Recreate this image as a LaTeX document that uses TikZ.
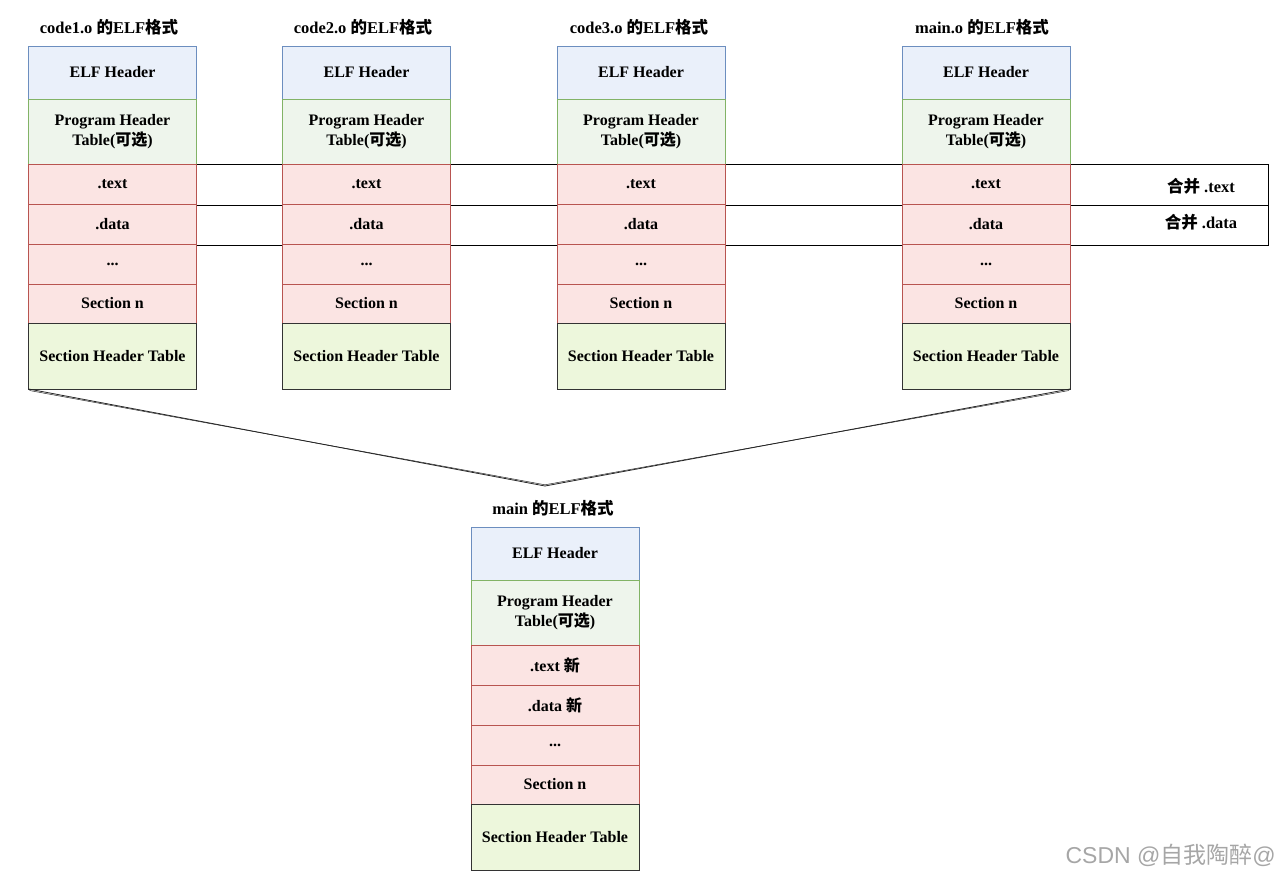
\documentclass[tikz,border=0pt]{standalone}
\usepackage{fontspec}
\setmainfont{Liberation Serif}
\newfontfamily\cjk{Noto Sans CJK SC Bold}
\newfontfamily\cjkw{Noto Sans CJK SC}
\newfontfamily\wsans{Liberation Sans}
\usetikzlibrary{positioning}
\definecolor{bfill}{HTML}{EAF0FA}
\definecolor{bdraw}{HTML}{6C8EBF}
\definecolor{gfill}{HTML}{EEF5EC}
\definecolor{gdraw}{HTML}{82B366}
\definecolor{rfill}{HTML}{FBE4E3}
\definecolor{rdraw}{HTML}{B85450}
\definecolor{sfill}{HTML}{EDF7DC}
\definecolor{sdraw}{HTML}{333333}
\tikzset{
  cell/.style={draw, line width=0.9pt, inner sep=0pt, outer sep=0pt,
    minimum width=168, align=center, font=\fontsize{16}{20}\selectfont\bfseries},
  ehbox/.style={cell, fill=bfill, draw=bdraw, minimum height=53},
  phbox/.style={cell, fill=gfill, draw=gdraw, minimum height=65},
  secbox/.style={cell, fill=rfill, draw=rdraw, minimum height=40},
  shtbox/.style={cell, fill=sfill, draw=sdraw, minimum height=66},
  titlebox/.style={inner sep=0pt, font=\fontsize{16.5}{20}\selectfont\bfseries},
  band/.style={draw, line width=0.9pt, inner sep=0pt, outer sep=0pt, minimum width=1240, minimum height=40.5},
  bandlabel/.style={inner sep=0pt, font=\fontsize{16.5}{20}\selectfont\bfseries},
  link/.style={line width=0.8pt, draw=black!85}
}
\newcommand\elfcol[5]{%
  \node[ehbox, anchor=north west] (#1eh) at (#2,#3) {ELF Header};
  \node[phbox, below=0pt of #1eh] (#1ph) {\raisebox{-2pt}{Program Header}\\\raisebox{-2pt}{Table({\cjk 可选})}};
  \node[secbox, below=0pt of #1ph] (#1tx) {#4};
  \node[secbox, below=0pt of #1tx] (#1da) {#5};
  \node[secbox, below=0pt of #1da] (#1dt) {\raisebox{-2pt}{...}};
  \node[secbox, minimum height=39, below=0pt of #1dt] (#1sn) {Section n};
  \node[shtbox, below=0pt of #1sn] (#1st) {Section Header Table};
}
\begin{document}
\begin{tikzpicture}[x=1pt,y=-1pt]
\useasboundingbox (0,0) rectangle (1280,876);
% merge bands
\node[band, anchor=north west] (bt) at (28,164.5) {};
\node[band, below=0pt of bt] (bd) {};
\node[bandlabel] (lt) at (1201,186) {{\cjk 合并} .text};
\node[bandlabel] (ld) at (1201,222) {{\cjk 合并} .data};
% columns
\elfcol{a}{28.5}{46}{.text}{.data}
\elfcol{b}{282.5}{46}{.text}{.data}
\elfcol{c}{557}{46}{.text}{.data}
\elfcol{d}{902}{46}{.text}{.data}
\elfcol{m}{471}{527}{.text {\cjk 新}}{.data {\cjk 新}}
% titles
\node[titlebox] (ta) at (109,27) {code1.o {\cjk 的}ELF{\cjk 格式}};
\node[titlebox] (tb) at (363,27) {code2.o {\cjk 的}ELF{\cjk 格式}};
\node[titlebox] (tc) at (639,27) {code3.o {\cjk 的}ELF{\cjk 格式}};
\node[titlebox] (td) at (982,27) {main.o {\cjk 的}ELF{\cjk 格式}};
\node[titlebox] (tm) at (553,508) {main {\cjk 的}ELF{\cjk 格式}};
% merge lines
\coordinate (apex) at (545,486);
\draw[link] (ast.south west) -- (apex) -- (dst.south east);
\draw[link, line width=0.5pt] ([shift={(1,1.5)}]ast.south west) -- ([shift={(0,-1.2)}]apex) -- ([shift={(-1,1.5)}]dst.south east);
% watermark
\node[anchor=east, inner sep=0pt, text=black!35, font=\fontsize{23}{26}\selectfont\wsans] (wm) at (1276,855) {CSDN @{\cjkw 自我陶醉}@};
\end{tikzpicture}
\end{document}
